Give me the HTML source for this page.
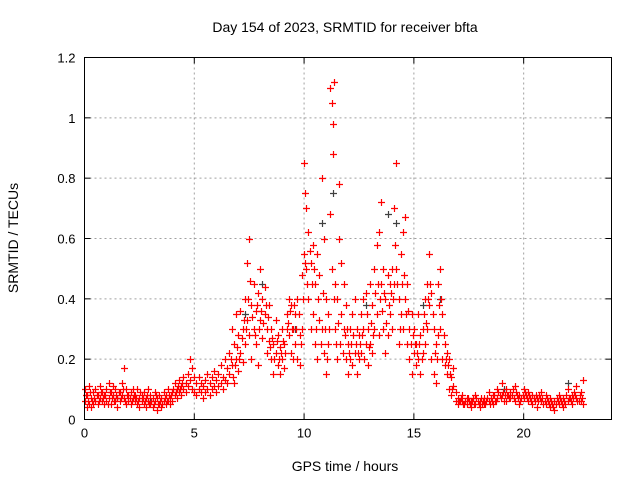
<!DOCTYPE html>
<html><head><meta charset="utf-8"><style>
body{margin:0;background:#fff}
svg{display:block;font-family:"Liberation Sans",sans-serif}
</style></head><body>
<svg id="chart" width="640" height="480" viewBox="0 0 640 480">
<rect width="640" height="480" fill="#fff"/>
<text x="345" y="32" font-size="14" text-anchor="middle">Day 154 of 2023, SRMTID for receiver bfta</text>
<text transform="translate(18,238) rotate(-90)" font-size="14" text-anchor="middle">SRMTID / TECUs</text>
<text x="345" y="471" font-size="14" text-anchor="middle">GPS time / hours</text>
<g id="grid"></g>
<g id="ticks"></g>
<g id="marks"></g>
<rect x="84.5" y="57.5" width="527" height="362" fill="none" stroke="#000"/>
</svg>
<script>
const xTicks=[0,5,10,15,20];
const yTicks=[0,0.2,0.4,0.6,0.8,1,1.2];
const yTickLabels=["0","0.2","0.4","0.6","0.8","1","1.2"];
const nightEarly=[[0,0.06],[0,0.1],[0.1,0.04],[0.1,0.08],[0.2,0.05],[0.2,0.11],[0.3,0.07],[0.3,0.04],[0.4,0.09],[0.4,0.05],[0.5,0.06],[0.5,0.1],[0.6,0.08],[0.6,0.05],[0.7,0.07],[0.7,0.11],[0.8,0.06],[0.8,0.09],[0.9,0.05],[0.9,0.08],[1.0,0.1],[1.0,0.06],[1.1,0.07],[1.1,0.12],[1.2,0.05],[1.2,0.09],[1.3,0.08],[1.3,0.11],[1.4,0.06],[1.4,0.1],[1.5,0.07],[1.5,0.04],[1.6,0.09],[1.6,0.06],[1.7,0.08],[1.7,0.12],[1.8,0.17],[1.8,0.07],[1.9,0.1],[1.9,0.05],[2.0,0.08],[2.0,0.06],[2.1,0.09],[2.1,0.05],[2.2,0.07],[2.2,0.1],[2.3,0.06],[2.3,0.08],[2.4,0.05],[2.4,0.1],[2.5,0.07],[2.5,0.04],[2.6,0.08],[2.6,0.06],[2.7,0.05],[2.7,0.09],[2.8,0.07],[2.8,0.04],[2.9,0.06],[2.9,0.1],[3.0,0.05],[3.0,0.08],[3.1,0.04],[3.1,0.07],[3.2,0.06],[3.2,0.09],[3.3,0.03],[3.3,0.07],[3.4,0.05],[3.4,0.08],[3.5,0.04],[3.5,0.07],[3.6,0.06],[3.6,0.09],[3.7,0.05],[3.7,0.08],[3.8,0.06],[3.8,0.1],[3.9,0.07],[3.9,0.05],[4.0,0.09],[4.0,0.06],[4.1,0.08],[4.1,0.12],[4.2,0.07],[4.2,0.1],[4.3,0.09],[4.3,0.13],[4.4,0.08],[4.4,0.11]];
const nightFill=[[0.05,0.08],[0.15,0.06],[0.25,0.09],[0.35,0.06],[0.45,0.07],[0.55,0.08],[0.65,0.06],[0.75,0.09],[0.85,0.07],[0.95,0.08],[1.05,0.05],[1.15,0.09],[1.25,0.07],[1.35,0.06],[1.45,0.08],[1.55,0.09],[1.65,0.07],[1.75,0.1],[1.85,0.06],[1.95,0.08],[2.05,0.07],[2.15,0.06],[2.25,0.08],[2.35,0.07],[2.45,0.06],[2.55,0.09],[2.65,0.07],[2.75,0.06],[2.85,0.08],[2.95,0.05],[3.05,0.06],[3.15,0.05],[3.25,0.08],[3.35,0.05],[3.45,0.06],[3.55,0.05],[3.65,0.07],[3.75,0.06],[3.85,0.08],[3.95,0.08],[4.05,0.1],[4.15,0.09],[4.25,0.11],[4.35,0.1],[4.45,0.12],[17.05,0.06],[17.15,0.07],[17.25,0.05],[17.35,0.06],[17.45,0.07],[17.55,0.05],[17.65,0.06],[17.75,0.05],[17.85,0.07],[17.95,0.05],[18.05,0.07],[18.15,0.06],[18.25,0.05],[18.35,0.07],[18.45,0.05],[18.55,0.06],[18.65,0.08],[18.75,0.06],[18.85,0.09],[18.95,0.07],[19.05,0.09],[19.15,0.08],[19.25,0.08],[19.35,0.07],[19.45,0.08],[19.55,0.07],[19.65,0.09],[19.75,0.07],[19.85,0.06],[19.95,0.08],[20.05,0.09],[20.15,0.07],[20.25,0.08],[20.35,0.06],[20.45,0.07],[20.55,0.08],[20.65,0.06],[20.75,0.07],[20.85,0.07],[20.95,0.06],[21.05,0.07],[21.15,0.05],[21.25,0.06],[21.35,0.04],[21.45,0.05],[21.55,0.06],[21.65,0.07],[21.75,0.05],[21.85,0.06],[21.95,0.08],[22.05,0.07],[22.15,0.06],[22.25,0.07],[22.35,0.08],[22.45,0.06],[22.55,0.08],[22.65,0.07]];
const dawnRise=[[4.5,0.1],[4.5,0.14],[4.6,0.12],[4.6,0.09],[4.7,0.15],[4.7,0.11],[4.8,0.2],[4.8,0.13],[4.9,0.17],[4.9,0.1],[5.0,0.14],[5.0,0.09],[5.1,0.12],[5.1,0.08],[5.2,0.1],[5.2,0.14],[5.3,0.09],[5.3,0.12],[5.4,0.11],[5.4,0.07],[5.5,0.13],[5.5,0.09],[5.6,0.1],[5.6,0.15],[5.7,0.12],[5.7,0.08],[5.8,0.14],[5.8,0.1],[5.9,0.11],[5.9,0.16],[6.0,0.13],[6.0,0.09],[6.1,0.15],[6.1,0.11],[6.2,0.12],[6.2,0.18],[6.3,0.14],[6.3,0.1],[6.4,0.2],[6.4,0.13],[6.5,0.17],[6.5,0.12]];
const morning=[[6.6,0.22],[6.6,0.15],[6.7,0.3],[6.7,0.18],[6.8,0.12],[6.8,0.25],[6.9,0.2],[6.9,0.35],[7.0,0.28],[7.0,0.16],[7.1,0.22],[7.1,0.36],[7.2,0.3],[7.2,0.19],[7.3,0.4],[7.3,0.25],[7.4,0.52],[7.4,0.33],[7.5,0.6],[7.5,0.28],[7.6,0.38],[7.6,0.2],[7.7,0.45],[7.7,0.3],[7.8,0.25],[7.8,0.36],[7.9,0.42],[7.9,0.18],[8.0,0.5],[8.0,0.33],[8.1,0.4],[8.1,0.27],[8.2,0.44],[8.2,0.35],[8.3,0.3],[8.3,0.22],[8.4,0.38],[8.4,0.26],[8.5,0.2],[8.5,0.3],[8.6,0.15],[8.6,0.25],[8.7,0.22],[8.7,0.33],[8.8,0.18],[8.8,0.28],[8.9,0.24],[8.9,0.15],[9.0,0.2],[9.0,0.3],[9.1,0.17],[9.1,0.25],[9.2,0.3],[9.2,0.35],[9.3,0.4],[9.3,0.28],[9.4,0.38],[9.4,0.22]];
const midday=[[9.5,0.3],[9.5,0.2],[9.6,0.35],[9.6,0.25],[9.7,0.4],[9.7,0.2],[9.8,0.28],[9.8,0.18],[9.9,0.48],[9.9,0.3],[10.0,0.55],[10.0,0.85],[10.05,0.75],[10.1,0.7],[10.1,0.5],[10.2,0.62],[10.2,0.4],[10.3,0.52],[10.3,0.3],[10.4,0.58],[10.4,0.35],[10.5,0.25],[10.5,0.45],[10.6,0.55],[10.6,0.2],[10.7,0.33],[10.7,0.48],[10.8,0.8],[10.8,0.3],[10.9,0.6],[10.9,0.22],[11.0,0.15],[11.0,0.4],[11.1,0.35],[11.1,0.25],[11.2,1.1],[11.25,1.05],[11.3,0.88],[11.3,0.98],[11.35,1.12],[11.2,0.68],[11.4,0.45],[11.4,0.3],[11.5,0.4],[11.5,0.2],[11.6,0.6],[11.6,0.78],[11.7,0.52],[11.7,0.35],[11.8,0.3],[11.8,0.45],[11.9,0.2],[11.9,0.38],[12.0,0.25],[12.0,0.15],[12.1,0.3],[12.1,0.2],[12.2,0.35],[12.2,0.18],[12.3,0.22],[12.3,0.4],[12.4,0.3],[12.4,0.15]];
const afternoon=[[12.5,0.28],[12.5,0.2],[12.6,0.35],[12.6,0.22],[12.7,0.4],[12.7,0.3],[12.8,0.25],[12.8,0.42],[12.9,0.3],[12.9,0.18],[13.0,0.45],[13.0,0.25],[13.1,0.38],[13.1,0.22],[13.2,0.5],[13.2,0.3],[13.3,0.58],[13.3,0.35],[13.4,0.62],[13.4,0.28],[13.5,0.72],[13.5,0.45],[13.6,0.5],[13.6,0.3],[13.7,0.4],[13.7,0.22],[13.8,0.48],[13.8,0.28],[13.9,0.45],[13.9,0.35],[14.0,0.5],[14.0,0.3],[14.1,0.7],[14.1,0.45],[14.2,0.85],[14.2,0.5],[14.3,0.4],[14.3,0.25],[14.4,0.55],[14.4,0.35],[14.5,0.62],[14.5,0.3],[14.6,0.67],[14.6,0.4],[14.7,0.45],[14.7,0.25],[14.8,0.3],[14.8,0.2],[14.9,0.35],[14.9,0.15],[15.0,0.22],[15.0,0.3],[15.1,0.18],[15.1,0.25],[15.2,0.2],[15.2,0.35],[15.3,0.15],[15.3,0.28],[15.4,0.22],[15.4,0.3],[15.5,0.4],[15.5,0.25],[15.6,0.45],[15.6,0.3],[15.7,0.55],[15.7,0.38],[15.8,0.42],[15.8,0.2],[15.9,0.3],[15.9,0.15],[16.0,0.25],[16.0,0.12],[16.1,0.45],[16.1,0.28],[16.2,0.5],[16.2,0.3],[16.3,0.2],[16.3,0.35],[16.4,0.18],[16.4,0.25],[16.5,0.15],[16.5,0.22],[16.6,0.1],[16.6,0.2],[16.7,0.14],[16.7,0.08],[16.8,0.17],[16.8,0.11],[16.9,0.09],[16.9,0.06]];
const dayFill=[[6.65,0.2],[6.75,0.14],[6.85,0.18],[6.95,0.24],[7.05,0.2],[7.15,0.27],[7.25,0.33],[7.35,0.3],[7.45,0.4],[7.55,0.46],[7.65,0.34],[7.75,0.28],[7.85,0.38],[7.95,0.3],[8.05,0.36],[8.15,0.32],[8.25,0.38],[8.35,0.34],[8.45,0.24],[8.55,0.27],[8.65,0.2],[8.75,0.26],[8.85,0.2],[8.95,0.22],[9.05,0.26],[9.15,0.22],[9.25,0.32],[9.35,0.36],[9.45,0.3],[9.55,0.38],[9.65,0.3],[9.75,0.35],[9.85,0.25],[9.95,0.4],[10.05,0.52],[10.15,0.45],[10.25,0.56],[10.35,0.45],[10.45,0.5],[10.55,0.3],[10.65,0.4],[10.75,0.25],[10.85,0.42],[10.95,0.3],[11.05,0.2],[11.15,0.3],[11.25,0.5],[11.35,0.4],[11.45,0.25],[11.55,0.32],[11.65,0.25],[11.75,0.22],[11.85,0.28],[11.95,0.3],[12.05,0.22],[12.15,0.25],[12.25,0.28],[12.35,0.25],[12.45,0.22],[12.55,0.25],[12.65,0.28],[12.75,0.2],[12.85,0.35],[12.95,0.24],[13.05,0.32],[13.15,0.28],[13.25,0.42],[13.35,0.45],[13.45,0.4],[13.55,0.36],[13.65,0.42],[13.75,0.32],[13.85,0.38],[13.95,0.42],[14.05,0.4],[14.15,0.58],[14.25,0.45],[14.35,0.3],[14.45,0.45],[14.55,0.48],[14.65,0.35],[14.75,0.36],[14.85,0.25],[14.95,0.28],[15.05,0.25],[15.15,0.22],[15.25,0.25],[15.35,0.2],[15.45,0.35],[15.55,0.32],[15.65,0.4],[15.75,0.45],[15.85,0.35],[15.95,0.22],[16.05,0.2],[16.15,0.38],[16.25,0.4],[16.35,0.28],[16.45,0.2],[16.55,0.18],[16.65,0.15],[16.75,0.1]];
const evening=[[17.0,0.07],[17.0,0.05],[17.1,0.06],[17.2,0.06],[17.2,0.08],[17.3,0.05],[17.4,0.05],[17.4,0.07],[17.5,0.06],[17.6,0.06],[17.6,0.04],[17.7,0.07],[17.8,0.08],[17.8,0.05],[17.9,0.06],[18.0,0.06],[18.0,0.04],[18.1,0.05],[18.2,0.07],[18.2,0.05],[18.3,0.06],[18.4,0.09],[18.4,0.06],[18.5,0.07],[18.6,0.08],[18.6,0.05],[18.7,0.06],[18.8,0.1],[18.8,0.07],[18.9,0.08],[19.0,0.12],[19.0,0.08],[19.1,0.06],[19.2,0.1],[19.2,0.06],[19.3,0.08],[19.4,0.09],[19.4,0.07],[19.5,0.1],[19.6,0.11],[19.6,0.06],[19.7,0.08],[19.8,0.08],[19.8,0.05],[19.9,0.07],[20.0,0.07],[20.0,0.1],[20.1,0.08],[20.2,0.06],[20.2,0.09],[20.3,0.07],[20.4,0.08],[20.4,0.05],[20.5,0.06],[20.6,0.07],[20.6,0.04],[20.7,0.08],[20.8,0.09],[20.8,0.06],[20.9,0.05],[21.0,0.05],[21.0,0.08],[21.1,0.06],[21.2,0.04],[21.2,0.07],[21.3,0.05],[21.4,0.06],[21.4,0.03],[21.5,0.07],[21.6,0.05],[21.6,0.08],[21.7,0.06],[21.8,0.07],[21.8,0.04],[21.9,0.05],[22.0,0.06],[22.0,0.1],[22.1,0.07],[22.2,0.08],[22.2,0.05],[22.3,0.09],[22.4,0.07],[22.4,0.11],[22.5,0.06],[22.6,0.06],[22.6,0.09],[22.7,0.13],[22.7,0.05]];
const grayPoints=[[1.5,0.07],[3.0,0.06],[7.3,0.35],[8.1,0.45],[9.6,0.3],[10.8,0.65],[11.3,0.75],[12.8,0.38],[13.8,0.68],[14.2,0.65],[15.4,0.38],[16.2,0.4],[19.1,0.1],[22.0,0.12]];

const X0=84.5,X1=611.5,Y0=419.5,Y1=57.5,XMAX=24,YMAX=1.2;
const xs=v=>X0+(X1-X0)*v/XMAX;
const ys=v=>Y0-(Y0-Y1)*v/YMAX;
const NS="http://www.w3.org/2000/svg";
const grid=document.getElementById('grid'),ticks=document.getElementById('ticks'),marks=document.getElementById('marks');
function mk(tag,attrs,parent){const e=document.createElementNS(NS,tag);for(const k in attrs)e.setAttribute(k,attrs[k]);parent.appendChild(e);return e;}
xTicks.forEach(t=>{
  const x=xs(t);
  if(t>0){const g=mk('line',{x1:x,x2:x,y1:Y0,y2:Y1,stroke:'#a0a0a0','stroke-dasharray':'2,3'},grid);
  
  }
  mk('line',{x1:x,x2:x,y1:Y0,y2:Y0-6,stroke:'#000'},ticks);
  mk('line',{x1:x,x2:x,y1:Y1,y2:Y1+6,stroke:'#000'},ticks);
  const l=mk('text',{x:x,y:Y0+18,'font-size':13,'text-anchor':'middle'},ticks);
  l.textContent=String(t);
  
  
});
yTicks.forEach((t,i)=>{
  const y=ys(t);
  if(t>0&&t<YMAX){const g=mk('line',{x1:X0,x2:X1,y1:y,y2:y,stroke:'#a0a0a0','stroke-dasharray':'2,3'},grid);
  
  }
  mk('line',{x1:X0,x2:X0+6,y1:y,y2:y,stroke:'#000'},ticks);
  mk('line',{x1:X1,x2:X1-6,y1:y,y2:y,stroke:'#000'},ticks);
  const l=mk('text',{x:X0-9,y:y+5,'font-size':13,'text-anchor':'end'},ticks);
  l.textContent=yTickLabels[i];
  
  
});
function plus(arr,color,name){
  let d='';
  arr.forEach(([t,v])=>{const x=Math.round(xs(t))+0.5,y=Math.round(ys(v))+0.5;d+=`M${x-3.5},${y}h7M${x},${y-3.5}v7`;});
  const p=mk('path',{d:d,stroke:color,'stroke-width':1.2,fill:'none'},marks);
  
  
}
plus(grayPoints,'#404040','series-secondary');
plus(nightEarly,'#ff0000','series-night-early');
plus(nightFill,'#ff0000','series-night-fill');
plus(dawnRise,'#ff0000','series-dawn');
plus(morning,'#ff0000','series-morning');
plus(midday,'#ff0000','series-midday');
plus(afternoon,'#ff0000','series-afternoon');
plus(dayFill,'#ff0000','series-day-fill');
plus(evening,'#ff0000','series-evening');
</script>
</body></html>
